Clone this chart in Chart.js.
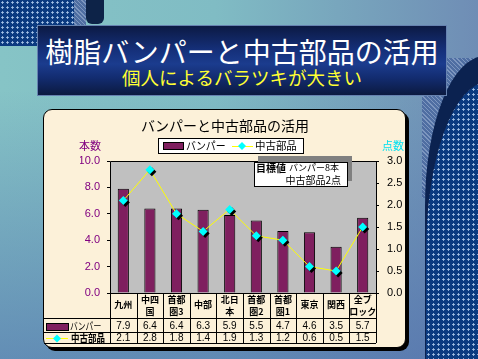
<!DOCTYPE html>
<html><head><meta charset="utf-8">
<script src="https://cdn.jsdelivr.net/npm/chart.js@4/dist/chart.umd.min.js"></script>
<style>
html,body{margin:0;padding:0;}
body{width:478px;height:359px;overflow:hidden;position:relative;
 background:
  linear-gradient(to bottom, rgba(0,0,0,0) 25%, rgba(75,105,170,0.6) 100%),
  linear-gradient(to right, #86c4c6 0%, #80bcc4 45%, #6f8db5 100%);}
.dots{position:absolute;background-color:#0b3a80;
 background-image:radial-gradient(circle, #a6c2e6 0.9px, rgba(0,0,0,0) 1.4px);
 background-size:5px 5px;}
.hatch{position:absolute;background-color:#4f6ea2;
 background-image:repeating-linear-gradient(45deg, rgba(170,190,220,0.5) 0 1px, rgba(0,0,0,0) 1px 3px);}
#titlebox{position:absolute;left:37px;top:25px;width:408px;height:69px;
 background:linear-gradient(to bottom,#0c1a44 0%,#15307a 35%,#1b3c8e 55%,#132c70 75%,#0b1a40 100%);
 border:1px solid #6682b0;}
#t1{position:absolute;left:0;top:11px;width:100%;text-align:center;color:#fff;
 font:28px/28px "Noto Sans CJK JP";letter-spacing:0px;}
#t2{position:absolute;left:0;top:42px;width:100%;text-align:center;color:#ffff33;
 font:18.5px/19px "Noto Sans CJK JP";}
#panel{position:absolute;left:43px;top:109px;width:361px;height:237px;
 background:#fcf1d9;border:1px solid #000;border-radius:9px;box-shadow:3px 3px 0 #000;}
canvas{position:absolute;left:0;top:0;}
</style></head>
<body>
<div class="dots" style="left:0;top:0;width:80px;height:46px;"></div>
<div class="hatch" style="left:74px;top:0;width:12px;height:40px;"></div>
<div style="position:absolute;left:86px;top:0;width:18px;height:24px;background:#0d2348;border-radius:0 0 6px 6px;"></div>
<div class="hatch" style="left:422px;top:58px;width:60px;height:140px;"></div>
<div style="position:absolute;left:425px;top:56px;width:120px;height:400px;background:#0b2250;border-top-left-radius:60px 150px;"></div>
<div class="dots" style="left:426px;top:82px;width:120px;height:400px;border-top-left-radius:62px 170px;"></div>
<div id="titlebox"><div id="t1">樹脂バンパーと中古部品の活用</div><div id="t2">個人によるバラツキが大きい</div></div>
<div id="panel"></div>
<canvas id="c" width="478" height="359"></canvas>
<script>
const categories = ['九州','中四国','首都圏3','中部','北日本','首都圏2','首都圏1','東京','関西','全ブロック'];
const categoryLines = [['九州'],['中四','国'],['首都','圏3'],['中部'],['北日','本'],['首都','圏2'],['首都','圏1'],['東京'],['関西'],['全ブ','ロック']];
const bumperValues = [7.9,6.4,6.4,6.3,5.9,5.5,4.7,4.6,3.5,5.7];
const partsValues = [2.1,2.8,1.8,1.4,1.9,1.3,1.2,0.6,0.5,1.5];
const seriesNames = ['バンパー','中古部品'];
const chartTitle = 'バンパーと中古部品の活用';
const leftAxisTitle = '本数';
const rightAxisTitle = '点数';
const noteLines = ['目標値','バンパー8本','中古部品2点'];

const BAR = '#7f1f5f', LINE = '#ffff00', PT = '#00ffff';
const JP = '"Noto Sans CJK JP"';
const NUM = '"Liberation Sans"';

function diamond(ctx,x,y,r,shadow){
  if(shadow){ctx.fillStyle='#000';ctx.beginPath();ctx.moveTo(x+2,y+2-r);ctx.lineTo(x+2+r,y+2);ctx.lineTo(x+2,y+2+r);ctx.lineTo(x+2-r,y+2);ctx.closePath();ctx.fill();}
  ctx.fillStyle=PT;ctx.beginPath();ctx.moveTo(x,y-r);ctx.lineTo(x+r,y);ctx.lineTo(x,y+r);ctx.lineTo(x-r,y);ctx.closePath();ctx.fill();
}
function textScaled(ctx,t,x,y,sx){ctx.save();ctx.translate(x,y);ctx.scale(sx,1);ctx.fillText(t,0,0);ctx.restore();}

const deco = {
  id:'deco',
  beforeDraw(chart){
    const {ctx, chartArea:a} = chart;
    ctx.save(); ctx.fillStyle='#c0c0c0'; ctx.fillRect(a.left,a.top,a.right-a.left,a.bottom-a.top); ctx.restore();
  },
  beforeDatasetDraw(chart,args){
    if(args.index===2){const c=chart.ctx;c.save();c.shadowColor='#000';c.shadowOffsetX=2;c.shadowOffsetY=2;c.shadowBlur=0;}
  },
  afterDatasetDraw(chart,args){ if(args.index===2) chart.ctx.restore(); },
  afterDraw(chart){
    const {ctx, chartArea:a} = chart;
    const xs = chart.scales.x;
    ctx.save();
    ctx.strokeStyle='#000'; ctx.lineWidth=1;
    ctx.beginPath(); ctx.moveTo(a.left+0.5,a.bottom); ctx.lineTo(a.left+0.5,a.top+0.5); ctx.lineTo(a.right,a.top+0.5); ctx.stroke();
    // title
    ctx.fillStyle='#000'; ctx.font='14px '+JP; ctx.textAlign='center'; ctx.textBaseline='middle';
    ctx.fillText(chartTitle, 225, 126);
    // axis titles
    ctx.font='11px '+JP;
    ctx.fillStyle='#800080'; ctx.fillText(leftAxisTitle, 90, 146);
    ctx.fillStyle='#00e0f0'; ctx.fillText(rightAxisTitle, 393, 146);
    // legend
    ctx.fillStyle='#fff'; ctx.fillRect(158,138,145,15);
    ctx.strokeStyle='#000'; ctx.strokeRect(158.5,138.5,145,15);
    ctx.fillStyle=BAR; ctx.fillRect(163,142,20,7); ctx.strokeRect(163.5,142.5,20,7);
    ctx.fillStyle='#000'; ctx.textAlign='left'; ctx.font='11px '+JP;
    textScaled(ctx,seriesNames[0],186,146,0.9);
    ctx.strokeStyle=LINE; ctx.beginPath(); ctx.moveTo(232,146.5); ctx.lineTo(253,146.5); ctx.stroke();
    diamond(ctx,242,146,4,false);
    ctx.fillStyle='#000'; textScaled(ctx,seriesNames[1],255,146,0.95);
    // note box
    ctx.fillStyle='#808080'; ctx.fillRect(258,156,94,25);
    ctx.fillStyle='#fff'; ctx.fillRect(254,162,94,25);
    ctx.strokeStyle='#000'; ctx.strokeRect(254.5,162.5,93,24);
    ctx.fillStyle='#000'; ctx.font='bold 10px '+JP; ctx.textAlign='left';
    ctx.fillText(noteLines[0],256,168);
    ctx.font='9px '+JP;
    ctx.fillText(noteLines[1],289,168);
    ctx.font='10px '+JP; ctx.textAlign='right';
    ctx.fillText(noteLines[2],341,180);
    // table
    const n = categories.length, w=(a.right-a.left)/n;
    const top=a.bottom, r1=318, r2=332, bot=343, L=44;
    ctx.strokeStyle='#000'; ctx.lineWidth=1;
    ctx.beginPath();
    for(let i=0;i<=n;i++){const x=Math.round(a.left+i*w)+0.5; ctx.moveTo(x,top); ctx.lineTo(x,bot);}
    [r1,r2,bot].forEach(y=>{ctx.moveTo(L,y+0.5);ctx.lineTo(a.right,y+0.5);});
    ctx.moveTo(a.left,top+0.5); ctx.lineTo(a.right,top+0.5);
    ctx.stroke();
    ctx.textAlign='center'; ctx.fillStyle='#000';
    categoryLines.forEach((lines,i)=>{
      const cx = xs.getPixelForValue(i);
      ctx.font='bold 9px '+JP;
      if(lines.length===1) ctx.fillText(lines[0],cx,305);
      else { ctx.fillText(lines[0],cx,300); ctx.fillText(lines[1],cx,312); }
      ctx.font='10px '+NUM;
      ctx.fillText(bumperValues[i].toFixed(1),cx,326);
      ctx.fillText(partsValues[i].toFixed(1),cx,338.5);
    });
    // row labels
    ctx.fillStyle=BAR; ctx.fillRect(47,324,21,6); ctx.strokeStyle='#000'; ctx.strokeRect(46.5,323.5,22,7);
    ctx.fillStyle='#000'; ctx.textAlign='left'; ctx.font='10px '+JP;
    textScaled(ctx,seriesNames[0],70,326,0.78);
    ctx.strokeStyle=LINE; ctx.beginPath(); ctx.moveTo(46,338.5); ctx.lineTo(68,338.5); ctx.stroke();
    diamond(ctx,57,338.5,4,false);
    ctx.fillStyle='#000'; ctx.font='bold 10px '+JP; textScaled(ctx,seriesNames[1],71,338.5,0.85);
    ctx.restore();
  }
};

new Chart(document.getElementById('c'), {
  data:{
    labels: categories,
    datasets:[
      {type:'bar', label:seriesNames[0], data:bumperValues, yAxisID:'y', backgroundColor:BAR, borderColor:'#000', borderWidth:1, barPercentage:0.42, categoryPercentage:1, order:3},
      {type:'line', label:seriesNames[1], data:partsValues, yAxisID:'y1', borderColor:LINE, borderWidth:1, pointRadius:0, tension:0, order:2},
      {type:'line', label:seriesNames[1]+'点', data:partsValues, yAxisID:'y1', showLine:false, pointStyle:'rectRot', pointRadius:4.5, pointBackgroundColor:PT, pointBorderColor:PT, pointBorderWidth:0, order:1}
    ]
  },
  options:{
    responsive:false, animation:false, devicePixelRatio:1,
    layout:{padding:{left:80,right:62,top:161,bottom:66}},
    plugins:{legend:{display:false},tooltip:{enabled:false},title:{display:false}},
    scales:{
      x:{display:false, offset:true},
      y:{position:'left', min:0, max:10,
         afterFit(s){s.width=30;},
         ticks:{stepSize:2, color:'#800080', font:{family:'Liberation Sans', size:11}, padding:7, callback:v=>v.toFixed(1)},
         grid:{drawOnChartArea:false, color:'#000', tickLength:3},
         border:{display:false}},
      y1:{position:'right', min:0, max:3,
         afterFit(s){s.width=40;},
         ticks:{stepSize:0.5, color:'#000', font:{family:'Liberation Sans', size:11}, padding:8, callback:v=>v.toFixed(1)},
         grid:{drawOnChartArea:false, color:'#000', tickLength:3},
         border:{display:true, color:'#000'}}
    }
  },
  plugins:[deco]
});
</script>
</body></html>
